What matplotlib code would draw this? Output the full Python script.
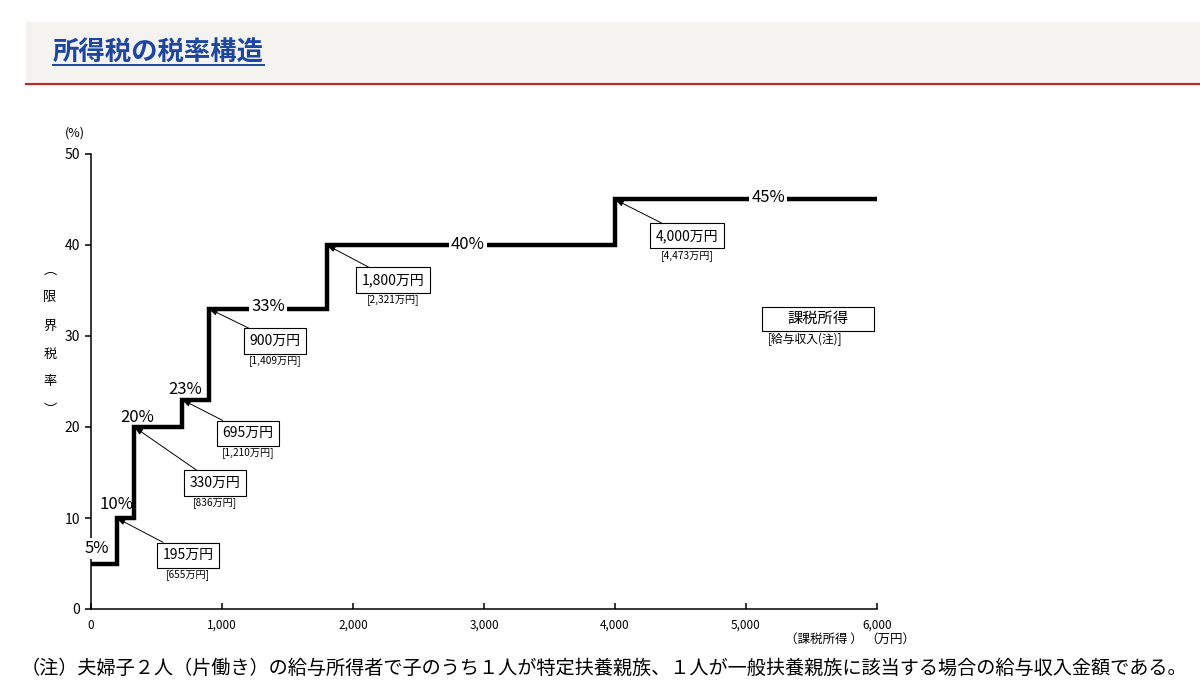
import matplotlib
matplotlib.use("Agg")
import matplotlib.pyplot as plt
from matplotlib.patches import Rectangle
from matplotlib.lines import Line2D

plt.rcParams['font.family'] = ['Noto Sans CJK JP', 'DejaVu Sans']

# income bracket edges (万円, taxable income) and marginal rates (%)
edges = [0, 195, 330, 695, 900, 1800, 4000, 6000]
rates = [5, 10, 20, 23, 33, 40, 45]
rate_labels = ["5%", "10%", "20%", "23%", "33%", "40%", "45%"]
box_labels = ["195万円", "330万円", "695万円", "900万円", "1,800万円", "4,000万円"]
salary_labels = ["[655万円]", "[836万円]", "[1,210万円]", "[1,409万円]",
                 "[2,321万円]", "[4,473万円]"]
xticks = [0, 1000, 2000, 3000, 4000, 5000, 6000]
xtick_labels = ["0", "1,000", "2,000", "3,000", "4,000", "5,000", "6,000"]
yticks = [0, 10, 20, 30, 40, 50]

# layout: where each rate label sits (x, y), whether it breaks the line,
# and where each box sits (x, y)
rate_pos = [(46, 6.7), (198, 11.5), (351, 21.0), (717, 24.1),
            (1351, 33.2), (2878, 40.1), (5168, 45.2)]
on_line = [False, False, False, False, True, True, True]
box_pos = [(740, 5.9), (947, 13.85), (1199, 19.3), (1405, 29.45),
           (2305, 36.15), (4550, 41.0)]

W, H = 1200, 692
fig = plt.figure(figsize=(12, 6.92), dpi=100)

# header band
fig.patches.append(Rectangle((26 / W, 1 - 82 / H), 1, 60 / H, transform=fig.transFigure,
                             facecolor="#f4f3f0", edgecolor="none", zorder=0))
fig.lines.append(Line2D([26 / W, 1], [1 - 83.5 / H] * 2, transform=fig.transFigure,
                        color="#c0272d", lw=1.6))
title = fig.text(53 / W, 1 - 53 / H, "所得税の税率構造", fontsize=19, fontweight="bold",
                 color="#1c46a0", va="center", ha="left")
fig.canvas.draw()
bb = title.get_window_extent()
fig.lines.append(Line2D([bb.x0 / W, bb.x1 / W], [1 - 65 / H] * 2, transform=fig.transFigure,
                        color="#1c46a0", lw=1.4))

ax = fig.add_axes([91 / W, 1 - 609 / H, 786 / W, 455 / H])
ax.set_xlim(0, 6000)
ax.set_ylim(0, 50)
for s in ["top", "right"]:
    ax.spines[s].set_visible(False)
for s in ["left", "bottom"]:
    ax.spines[s].set_linewidth(1.1)
    ax.spines[s].set_zorder(1)

ax.step(edges, rates + [rates[-1]], where="post", color="black", lw=3.2,
        solid_joinstyle="miter", zorder=3)

ax.set_xticks(xticks)
ax.set_xticklabels(xtick_labels)
ax.set_yticks(yticks)
ax.tick_params(axis="x", direction="in", length=4, width=1.1, pad=7, labelsize=8.5)
ax.tick_params(axis="y", direction="out", length=4, width=1.1, pad=4, labelsize=10)

for lab, (x, y), brk in zip(rate_labels, rate_pos, on_line):
    ax.text(x, y, lab, fontsize=12, ha="center", va="center",
            zorder=5 if brk else 2, clip_on=False,
            bbox=dict(boxstyle="square,pad=0.12", fc="white", ec="none"))

for lab, sal, corner, (x, y) in zip(box_labels, salary_labels,
                                    zip(edges[1:-1], rates[1:]), box_pos):
    ax.annotate(lab, xy=corner, xytext=(x, y), fontsize=10, ha="center", va="center",
                zorder=6,
                bbox=dict(boxstyle="square,pad=0.4", fc="white", ec="black", lw=0.8),
                arrowprops=dict(arrowstyle="-|>,head_length=0.5,head_width=0.18",
                                color="black", lw=0.7, shrinkA=0, shrinkB=0))
    ax.text(x, y - 2.15, sal, fontsize=7.3, ha="center", va="center", zorder=6)

# key box
ax.add_patch(Rectangle((5122, 30.55), 855, 2.64, fc="white", ec="black", lw=0.8, zorder=6))
ax.text(5550, 31.9, "課税所得", fontsize=11, ha="center", va="center", zorder=7)
ax.text(5450, 29.6, "[給与収入(注)]", fontsize=8.5, ha="center", va="center", zorder=7)

# axis labels
fig.text(75 / W, 1 - 133 / H, "(%)", fontsize=9, ha="center", va="center")
fig.text(50 / W, 1 - 340 / H, "︵\n限\n界\n税\n率\n︶", fontsize=9.5, ha="center",
         va="center", linespacing=2.5)
fig.text(824 / W, 1 - 639 / H, "（課税所得 ）", fontsize=9, ha="center", va="center")
fig.text(890 / W, 1 - 639 / H, "（万円）", fontsize=9, ha="center", va="center")

fig.text(21 / W, 1 - 668 / H,
         "（注）夫婦子２人（片働き）の給与所得者で子のうち１人が特定扶養親族、"
         "１人が一般扶養親族に該当する場合の給与収入金額である。",
         fontsize=13.8, ha="left", va="center")

fig.savefig("out.png", dpi=100)
